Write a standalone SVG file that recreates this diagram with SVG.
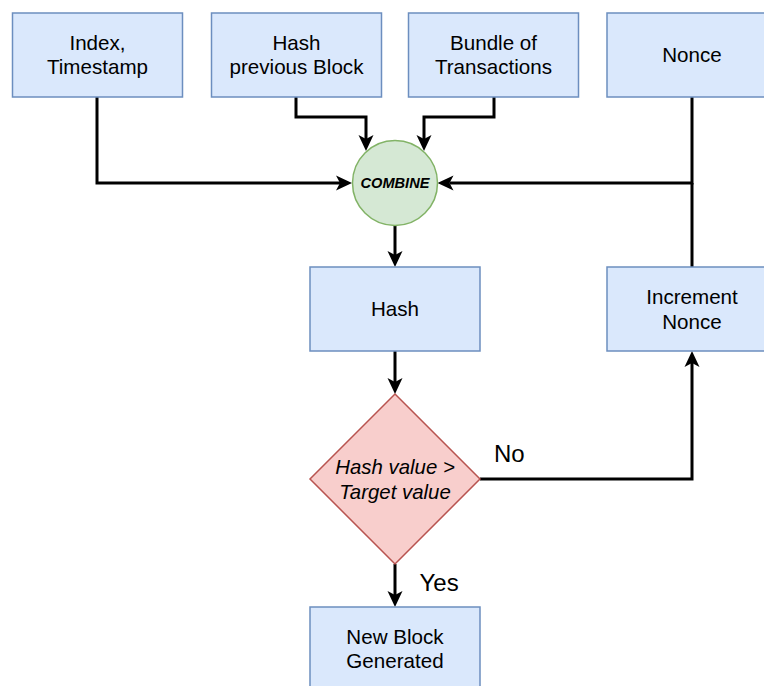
<svg xmlns="http://www.w3.org/2000/svg" width="764" height="686" viewBox="0 0 764 686">
  <style>
    .box { fill: #dae8fc; stroke: #6c8ebf; stroke-width: 1.5; }
    .combine { fill: #d5e8d4; stroke: #82b366; stroke-width: 1.5; }
    .decision { fill: #f8cecc; stroke: #b85450; stroke-width: 1.5; }
    text { font-family: "Liberation Sans", Arial, Helvetica, sans-serif; fill: #000; text-anchor: middle; }
    .lbl { font-size: 20.6px; }
    .it { font-size: 20.4px; font-style: italic; }
    .cmb { font-size: 14.6px; font-style: italic; font-weight: bold; }
    .edge-lbl { font-size: 24px; text-anchor: start; }
    .edge { fill: none; stroke: #000; stroke-width: 3; stroke-linejoin: miter; }
  </style>
  <defs>
    <marker id="arrow" markerUnits="userSpaceOnUse" viewBox="0 0 16 16" refX="4" refY="8" markerWidth="16" markerHeight="16" orient="auto">
      <path d="M0,0.5 L16,8 L0,15.5 L4,8 Z" fill="#000"/>
    </marker>
  </defs>

  <g id="connectors">
    <path class="edge" d="M97,97 V183 H340" marker-end="url(#arrow)"/>
    <path class="edge" d="M296,97 V117 H366 V139" marker-end="url(#arrow)"/>
    <path class="edge" d="M494,97 V117 H424 V139" marker-end="url(#arrow)"/>
    <path class="edge" d="M692,97 V183 H449.5" marker-end="url(#arrow)"/>
    <path class="edge" d="M692,267 V183"/>
    <path class="edge" d="M395,225.5 V255" marker-end="url(#arrow)"/>
    <path class="edge" d="M395,351 V382" marker-end="url(#arrow)"/>
    <path class="edge" d="M395,564 V595" marker-end="url(#arrow)"/>
    <path class="edge" d="M480,479 H692 V363" marker-end="url(#arrow)"/>
    <text class="edge-lbl" x="494" y="462">No</text>
    <text class="edge-lbl" x="419.5" y="591">Yes</text>
  </g>

  <g id="index-timestamp">
    <rect class="box" x="12.5" y="13" width="170" height="84"/>
    <text class="lbl" x="97.5" y="50">Index,</text>
    <text class="lbl" x="97.5" y="74">Timestamp</text>
  </g>

  <g id="hash-previous-block">
    <rect class="box" x="211.5" y="13" width="170" height="84"/>
    <text class="lbl" x="296.5" y="50">Hash</text>
    <text class="lbl" x="296.5" y="74">previous Block</text>
  </g>

  <g id="bundle-of-transactions">
    <rect class="box" x="408.5" y="13" width="170" height="84"/>
    <text class="lbl" x="493.5" y="50">Bundle of</text>
    <text class="lbl" x="493.5" y="74">Transactions</text>
  </g>

  <g id="nonce">
    <rect class="box" x="607" y="13" width="170" height="84"/>
    <text class="lbl" x="692" y="62">Nonce</text>
  </g>

  <g id="combine">
    <circle class="combine" cx="395" cy="183" r="42.5"/>
    <text class="cmb" x="395" y="188">COMBINE</text>
  </g>

  <g id="hash">
    <rect class="box" x="310" y="267" width="170" height="84"/>
    <text class="lbl" x="395" y="316">Hash</text>
  </g>

  <g id="increment-nonce">
    <rect class="box" x="607" y="267" width="170" height="84"/>
    <text class="lbl" x="692" y="304">Increment</text>
    <text class="lbl" x="692" y="329">Nonce</text>
  </g>

  <g id="hash-check">
    <polygon class="decision" points="395,394 480,479 395,564 310,479"/>
    <text class="it" x="395" y="474">Hash value &gt;</text>
    <text class="it" x="395" y="499">Target value</text>
  </g>

  <g id="new-block">
    <rect class="box" x="310" y="607" width="170" height="84"/>
    <text class="lbl" x="395" y="644">New Block</text>
    <text class="lbl" x="395" y="668">Generated</text>
  </g>
</svg>
